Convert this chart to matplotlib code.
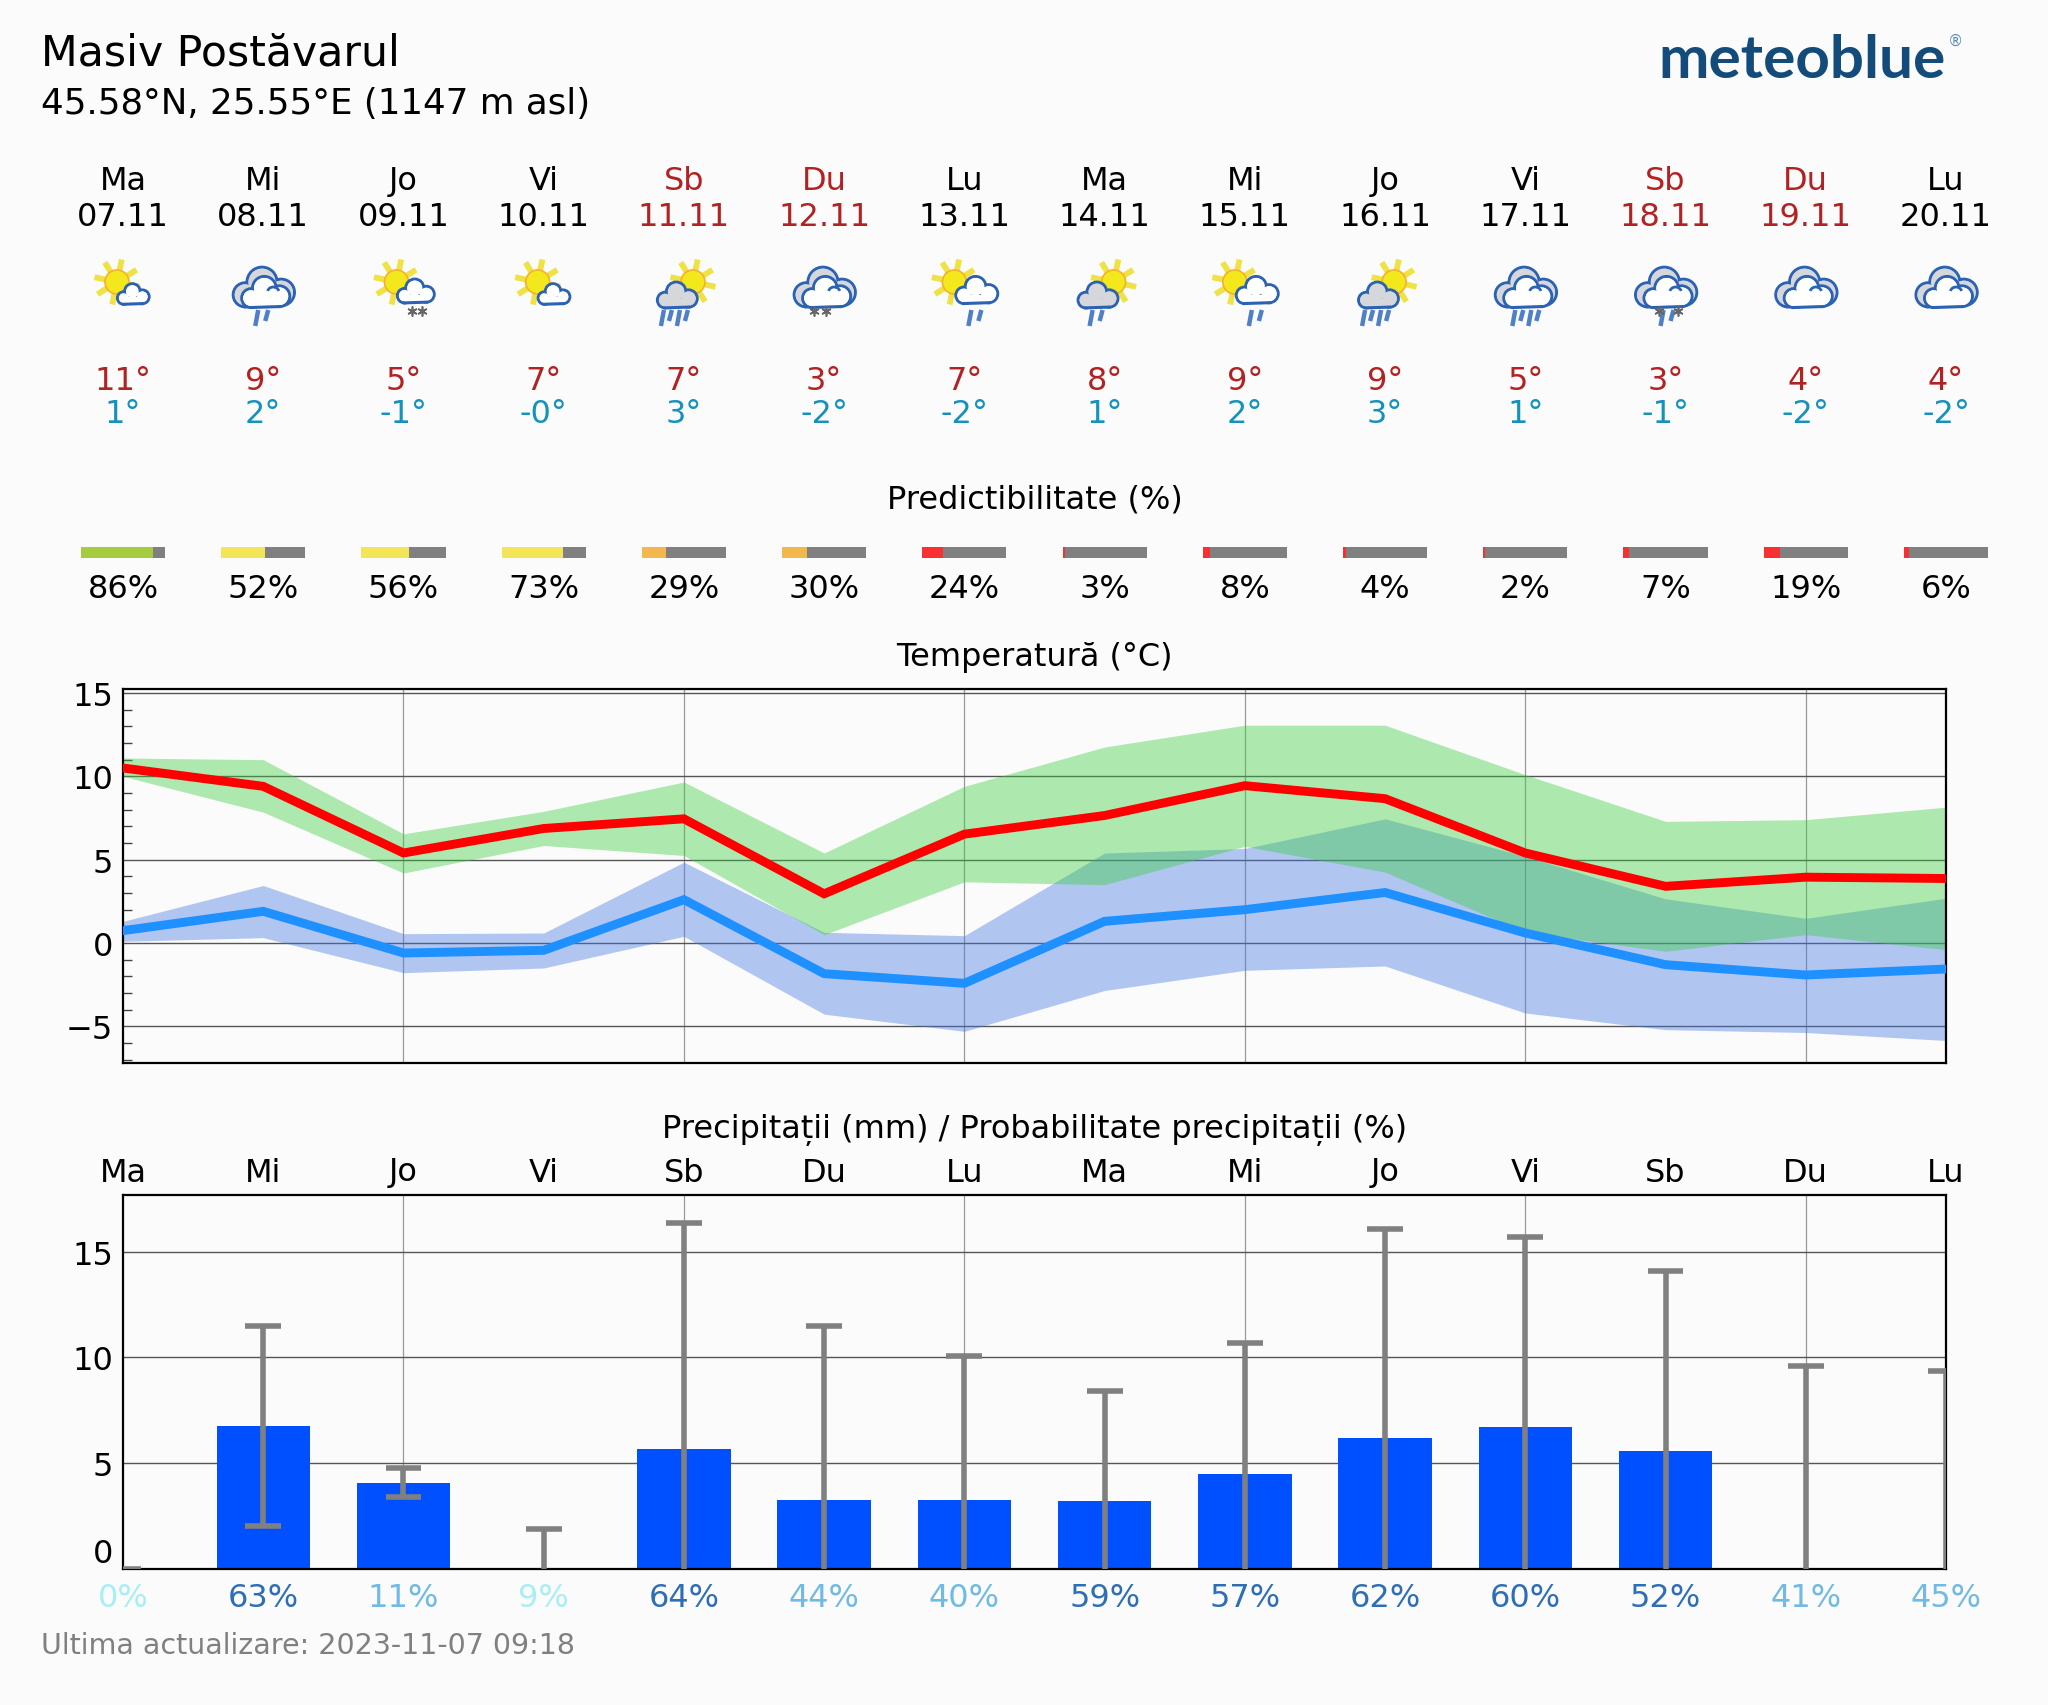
import numpy as np
import matplotlib
matplotlib.use("Agg")
import matplotlib.pyplot as plt
from matplotlib.patches import Circle, Rectangle, Arc

W, H = 2048, 1706
LEFT, RIGHT = 123, 1946
BG = '#fbfbfb'

day_names = ['Ma', 'Mi', 'Jo', 'Vi', 'Sb', 'Du', 'Lu', 'Ma', 'Mi', 'Jo', 'Vi', 'Sb', 'Du', 'Lu']
dates = ['07.11', '08.11', '09.11', '10.11', '11.11', '12.11', '13.11', '14.11', '15.11', '16.11', '17.11', '18.11', '19.11', '20.11']
tmax_labels = ['11°', '9°', '5°', '7°', '7°', '3°', '7°', '8°', '9°', '9°', '5°', '3°', '4°', '4°']
tmin_labels = ['1°', '2°', '-1°', '-0°', '3°', '-2°', '-2°', '1°', '2°', '3°', '1°', '-1°', '-2°', '-2°']
icons = ['sun', 'cloud2', 'sunsnow', 'sun', 'grey4', 'cloudsnow', 'sunrain', 'grey2', 'sunrain', 'grey4', 'cloud4', 'cloudmix', 'cloud', 'cloud']

predict = [86, 52, 56, 73, 29, 30, 24, 3, 8, 4, 2, 7, 19, 6]

temp_max = [10.5, 9.4, 5.4, 6.87, 7.45, 2.95, 6.53, 7.65, 9.44, 8.66, 5.4, 3.4, 3.95, 3.87]
temp_max_hi = [11.1, 11.0, 6.55, 7.9, 9.66, 5.4, 9.4, 11.76, 13.07, 13.07, 10.1, 7.3, 7.4, 8.15]
temp_max_lo = [10.0, 7.85, 4.2, 5.85, 5.25, 0.5, 3.67, 3.5, 5.8, 4.25, 0.65, -0.5, 0.5, -0.4]
temp_min = [0.74, 1.9, -0.6, -0.44, 2.6, -1.84, -2.42, 1.3, 2.0, 3.03, 0.6, -1.3, -1.92, -1.56]
temp_min_hi = [1.3, 3.45, 0.56, 0.6, 4.85, 0.64, 0.44, 5.4, 5.67, 7.45, 5.2, 2.65, 1.48, 2.69]
temp_min_lo = [0.1, 0.32, -1.78, -1.5, 0.4, -4.27, -5.3, -2.85, -1.64, -1.38, -4.2, -5.2, -5.37, -5.85]

precip = [0, 6.78, 4.07, 0, 5.68, 3.27, 3.27, 3.2, 4.5, 6.17, 6.7, 5.6, 0, 0]
precip_hi = [0, 11.48, 4.78, 1.9, 16.36, 11.48, 10.06, 8.4, 10.68, 16.05, 15.7, 14.1, 9.6, 9.37]
precip_lo = [0, 2.04, 3.4, 0, 0, 0, 0, 0, 0, 0, 0, 0, 0, 0]
precip_prob = [0, 63, 11, 9, 64, 44, 40, 59, 57, 62, 60, 52, 41, 45]

days = np.arange(len(day_names))
step = (RIGHT - LEFT) / (len(days) - 1)
day_x = LEFT + days * step


def axes_px(x0, x1, y0, y1):
    return [x0 / W, 1 - y1 / H, (x1 - x0) / W, (y1 - y0) / H]


def pred_color(p):
    if p >= 80:
        return '#a6cb3f'
    if p >= 50:
        return '#f3e557'
    if p >= 25:
        return '#f2b84b'
    return '#f83030'


def prob_color(p):
    if p >= 50:
        return '#2e6eb7'
    if p >= 10:
        return '#70bae3'
    return '#a8eef5'


# icons, drawn in pixel units on the overlay
OUT = '#2c62b4'


def draw_sun(ax, x, y):
    for a in [32, 78, 122, 168, 212, 258, 302, 348]:
        c, s = np.cos(np.radians(a)), np.sin(np.radians(a))
        ax.plot([x + 12 * c, x + 23 * c], [y - 12 * s, y - 23 * s], color='#efe244',
                lw=2.1, solid_capstyle='butt', zorder=3)
    ax.add_patch(Circle((x, y), 12, fc='#f3e81c', ec='#f5b030', lw=0.6, zorder=4))


def draw_cloud(ax, x, y, w, face, z=5):
    lobes = [(-0.3, 0.13, 0.2), (-0.02, -0.08, 0.25), (0.3, 0.09, 0.22)]
    for dx, dy, r in lobes:
        ax.add_patch(Circle((x + dx * w, y + dy * w), r * w, fc=face, ec=OUT, lw=1.1, zorder=z))
    ax.add_patch(Rectangle((x - 0.3 * w, y + 0.11 * w), 0.6 * w, 0.2 * w, fc=face, ec='none', zorder=z + 0.1))
    for dx, dy, r in lobes:
        ax.add_patch(Circle((x + dx * w, y + dy * w), r * w - 1.4, fc=face, ec='none', zorder=z + 0.1))
    ax.plot([x - 0.3 * w, x + 0.3 * w], [y + 0.33 * w, y + 0.31 * w], color=OUT, lw=1.1, zorder=z + 0.2)


def draw_bigcloud(ax, x, y):
    draw_cloud(ax, x, y, 60, '#d5d7db', z=5)
    draw_cloud(ax, x + 2, y + 5, 47, 'white', z=6)
    ax.add_patch(Arc((x + 10, y + 6), 12, 12, theta1=200, theta2=340, color=OUT, lw=1.0, zorder=7))


def draw_drops(ax, x, n):
    for i in range(n):
        xi = x + (i - (n - 1) / 2) * (8 if n > 2 else 10)
        y1 = 327 if i % 2 == 0 else 322
        ax.plot([xi + 2, xi - 1], [311, y1], color='#4f7fc9', lw=1.6, solid_capstyle='butt', zorder=3)


def draw_snow(ax, xs):
    ax.plot(xs, [312] * len(xs), ls='none', marker=(6, 2, 0), ms=3.6, mew=0.6, color='#666666', zorder=8)


def draw_icon(ax, kind, x):
    if kind == 'sun':
        draw_sun(ax, x - 6, 283)
        draw_cloud(ax, x + 10, 295, 31, 'white')
    elif kind == 'sunsnow':
        draw_sun(ax, x - 7, 283)
        draw_cloud(ax, x + 12, 292, 36, 'white')
        draw_snow(ax, [x + 9, x + 19])
    elif kind == 'sunrain':
        draw_sun(ax, x - 10, 283)
        draw_cloud(ax, x + 12, 291, 41, 'white')
        draw_drops(ax, x + 10, 2)
    elif kind in ('grey2', 'grey4'):
        draw_sun(ax, x + 9, 283)
        draw_cloud(ax, x - 7, 296, 39, '#d5d7db')
        draw_drops(ax, x - 9 if kind == 'grey2' else x - 10, 2 if kind == 'grey2' else 4)
    else:
        draw_bigcloud(ax, x, 288)
        if kind == 'cloud2':
            draw_drops(ax, x - 2, 2)
        elif kind == 'cloud4':
            draw_drops(ax, x, 4)
        elif kind == 'cloudsnow':
            draw_snow(ax, [x - 10, x + 2])
        elif kind == 'cloudmix':
            draw_drops(ax, x + 1, 2)
            draw_snow(ax, [x - 7, x + 12])


plt.rcParams['font.family'] = ['DejaVu Sans']
FS = 11.5
fig = plt.figure(figsize=(W / 200, H / 200), dpi=200, facecolor=BG)

# predictability
ax_p = fig.add_axes(axes_px(LEFT, RIGHT, 548, 559), facecolor='none')
ax_p.set_xlim(0, 13)
ax_p.set_ylim(0, 1)
ax_p.axis('off')
pct = np.array(predict) / 100
ax_p.barh([0.5] * 14, [0.6] * 14, left=days - 0.3, height=1, color='#808080', clip_on=False)
ax_p.barh([0.5] * 14, 0.6 * pct, left=days - 0.3, height=1, color=[pred_color(p) for p in predict], clip_on=False)

# temperature
ax_t = fig.add_axes(axes_px(LEFT, RIGHT, 690, 1064), facecolor=BG)
ax_t.set_xlim(0, 13)
ax_t.set_ylim(-7.2, 15.24)
ax_t.set_yticks([-5, 0, 5, 10, 15])
ax_t.set_yticks(np.arange(-7, 15), minor=True)
ax_t.set_yticklabels(['\u22125', '0', '5', '10', '15'], fontsize=FS)
ax_t.set_xticks(days[2::2])
ax_t.set_xticklabels([])
ax_t.grid(axis='y', which='major', color='#555555', lw=0.5)
ax_t.grid(axis='x', color='#999999', lw=0.45)
ax_t.tick_params(axis='x', length=0)
ax_t.tick_params(axis='y', which='major', direction='in', length=0, pad=3.5)
ax_t.tick_params(axis='y', which='minor', direction='in', length=3.2, width=0.5, color='#444444')
ax_t.set_axisbelow(True)
ax_t.fill_between(days, temp_min_lo, temp_min_hi, color='#4178e1', alpha=0.4, lw=0, zorder=2)
ax_t.fill_between(days, temp_max_lo, temp_max_hi, color='#39cf3e', alpha=0.4, lw=0, zorder=2.1)
ax_t.plot(days, temp_max, color='#ff0000', lw=3.2, solid_joinstyle='miter', zorder=3)
ax_t.plot(days, temp_min, color='#1e90ff', lw=3.2, solid_joinstyle='miter', zorder=3)

# precipitation
ax_r = fig.add_axes(axes_px(LEFT, RIGHT, 1195.5, 1570), facecolor=BG)
ax_r.set_xlim(0, 13)
ax_r.set_ylim(0, 17.7)
ax_r.set_yticks([0, 5, 10, 15])
ax_r.set_yticklabels(['0', '5', '10', '15'], fontsize=FS)
ax_r.get_yticklabels()[0].set_va('bottom')
ax_r.set_xticks(days[2::2])
ax_r.set_xticklabels([])
ax_r.grid(axis='y', color='#555555', lw=0.5)
ax_r.grid(axis='x', color='#999999', lw=0.45)
ax_r.tick_params(length=0, pad=3.5)
ax_r.set_axisbelow(True)
ax_r.bar(days, precip, width=0.666, color='#0050ff', zorder=2)
ax_r.vlines(days, precip_lo, precip_hi, color='#808080', lw=2.0, zorder=3)
ax_r.hlines(precip_hi, days - 0.128, days + 0.128, color='#808080', lw=2.0, zorder=3)
lo_arr = np.array(precip_lo)
ax_r.hlines(lo_arr[lo_arr > 0], days[lo_arr > 0] - 0.128, days[lo_arr > 0] + 0.128, color='#808080', lw=2.0, zorder=3)

# overlay in pixel units for texts and icons
ov = fig.add_axes([0, 0, 1, 1], facecolor='none')
ov.set_xlim(0, W)
ov.set_ylim(H, 0)
ov.axis('off')


def put(x, y, s, color='black', size=FS, ha='center', **kw):
    ov.text(x, y, s, color=color, fontsize=size, ha=ha, va='center', **kw)


put(41, 53, 'Masiv Postăvarul', size=15.35, ha='left')
put(41, 104, '45.58°N, 25.55°E (1147 m asl)', size=12.85, ha='left')
ov.text(1946, 78, 'meteoblue', family='Lato', weight='bold', fontsize=21.7, color='#134b7b', ha='right', va='baseline')
ov.text(1948, 41, '®', fontsize=5.5, color='#5b8ab0', ha='left', va='center')

for i, x in enumerate(day_x):
    weekend = day_names[i] in ('Sb', 'Du')
    c = '#b22222' if weekend else 'black'
    put(x, 181, day_names[i], color=c)
    put(x, 217, dates[i], color=c)
    draw_icon(ov, icons[i], x)
    put(x, 381.5, tmax_labels[i], color='#b22222')
    put(x, 414.5, tmin_labels[i], color='#1592bb')
    put(x, 589.5, f'{predict[i]}%')
    put(x, 1173, day_names[i])
    put(x, 1599, f'{precip_prob[i]}%', color=prob_color(precip_prob[i]))

mid = (LEFT + RIGHT) / 2
put(mid, 500, 'Predictibilitate (%)')
put(mid, 657, 'Temperatură (°C)')
put(mid, 1130.5, 'Precipitații (mm) / Probabilitate precipitații (%)')
put(41, 1646, 'Ultima actualizare: 2023-11-07 09:18', color='#808080', size=10.25, ha='left')

fig.savefig('out.png', dpi=200, facecolor=BG)
